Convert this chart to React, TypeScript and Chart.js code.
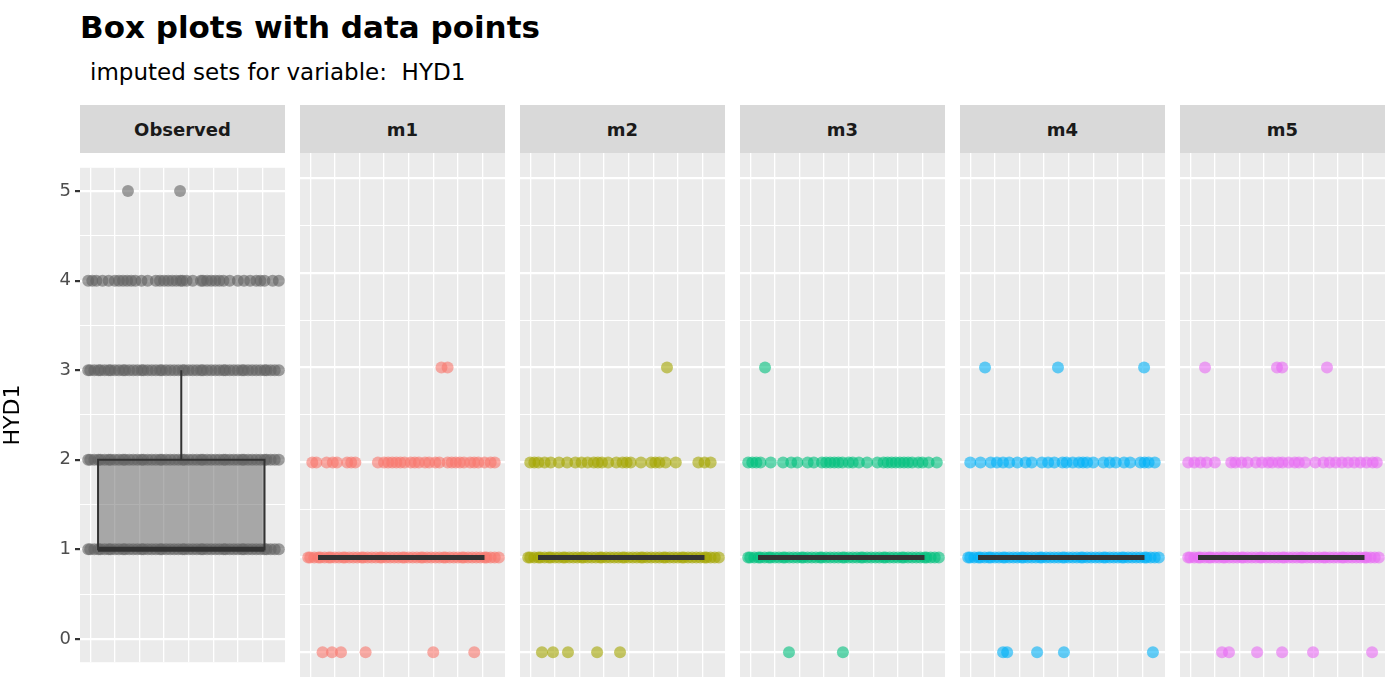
import { useEffect, useRef } from 'react';
import { Chart, registerables, Plugin } from 'chart.js';

Chart.register(...registerables);

const panels = ['Observed', 'm1', 'm2', 'm3', 'm4', 'm5'];
const colors = ['#636363', '#F8766D', '#A3A500', '#00BF7D', '#00B0F6', '#E76BF3'];
const yTicks = [0, 1, 2, 3, 4, 5];

// jittered x positions (0..1 inside each panel) per value level
const dense = [0.04, 0.05, 0.07, 0.09, 0.1, 0.12, 0.14, 0.15, 0.17, 0.19, 0.21, 0.22, 0.24, 0.26, 0.28, 0.3, 0.31, 0.33, 0.35, 0.37, 0.39, 0.4, 0.42, 0.44, 0.46, 0.48, 0.5, 0.51, 0.53, 0.55, 0.57, 0.59, 0.6, 0.62, 0.64, 0.66, 0.68, 0.7, 0.71, 0.73, 0.75, 0.77, 0.79, 0.8, 0.82, 0.84, 0.86, 0.88, 0.9, 0.91, 0.93, 0.95, 0.97];
const obs4 = [0.04, 0.06, 0.08, 0.11, 0.14, 0.17, 0.19, 0.21, 0.23, 0.25, 0.27, 0.3, 0.33, 0.37, 0.39, 0.41, 0.43, 0.45, 0.47, 0.49, 0.5, 0.52, 0.55, 0.59, 0.6, 0.62, 0.64, 0.66, 0.68, 0.7, 0.73, 0.77, 0.8, 0.83, 0.86, 0.88, 0.9, 0.94, 0.97];
const obs5 = [0.234, 0.488];
const m1y0 = [0.11, 0.156, 0.2, 0.32, 0.65, 0.85];
const m1y2 = [0.06, 0.08, 0.13, 0.16, 0.18, 0.23, 0.25, 0.27, 0.38, 0.41, 0.43, 0.45, 0.47, 0.49, 0.51, 0.54, 0.56, 0.58, 0.61, 0.63, 0.66, 0.68, 0.72, 0.74, 0.76, 0.78, 0.8, 0.83, 0.85, 0.87, 0.9, 0.93, 0.95];
const m1y3 = [0.69, 0.72];
const m2y0 = [0.107, 0.161, 0.234, 0.376, 0.488];
const m2y2 = [0.05, 0.07, 0.09, 0.12, 0.15, 0.19, 0.23, 0.27, 0.3, 0.33, 0.36, 0.38, 0.4, 0.43, 0.47, 0.5, 0.52, 0.54, 0.59, 0.64, 0.66, 0.68, 0.71, 0.76, 0.87, 0.9, 0.93];
const m2y3 = [0.717];
const m3y0 = [0.239, 0.502];
const m3y2 = [0.04, 0.06, 0.08, 0.1, 0.15, 0.21, 0.25, 0.28, 0.33, 0.36, 0.4, 0.42, 0.44, 0.46, 0.48, 0.5, 0.53, 0.55, 0.58, 0.62, 0.67, 0.7, 0.72, 0.74, 0.76, 0.78, 0.8, 0.82, 0.84, 0.87, 0.89, 0.92, 0.96];
const m3y3 = [0.122];
const m4y0 = [0.21, 0.23, 0.376, 0.507, 0.941];
const m4y2 = [0.05, 0.1, 0.15, 0.18, 0.21, 0.24, 0.28, 0.32, 0.35, 0.4, 0.43, 0.46, 0.5, 0.52, 0.55, 0.58, 0.6, 0.62, 0.65, 0.7, 0.73, 0.76, 0.8, 0.83, 0.88, 0.9, 0.92, 0.95];
const m4y3 = [0.122, 0.478, 0.898];
const m5y0 = [0.205, 0.239, 0.376, 0.498, 0.649, 0.937];
const m5y2 = [0.04, 0.07, 0.1, 0.13, 0.17, 0.25, 0.27, 0.3, 0.33, 0.37, 0.4, 0.43, 0.45, 0.48, 0.5, 0.53, 0.56, 0.58, 0.61, 0.66, 0.7, 0.73, 0.76, 0.79, 0.82, 0.85, 0.88, 0.91, 0.94, 0.96];
const m5y3 = [0.122, 0.473, 0.498, 0.717];

// [lowWhisker, q1, median, q3, highWhisker]
const boxStats = [
  [1, 1, 1, 2, 3],
  [1, 1, 1, 1, 1],
  [1, 1, 1, 1, 1],
  [1, 1, 1, 1, 1],
  [1, 1, 1, 1, 1],
  [1, 1, 1, 1, 1],
];
const boxLeft = 0.088;
const boxRight = 0.9;

const levels: [number, number[]][][] = [
  [[1, dense], [2, dense], [3, dense], [4, obs4], [5, obs5]],
  [[0, m1y0], [1, dense], [2, m1y2], [3, m1y3]],
  [[0, m2y0], [1, dense], [2, m2y2], [3, m2y3]],
  [[0, m3y0], [1, dense], [2, m3y2], [3, m3y3]],
  [[0, m4y0], [1, dense], [2, m4y2], [3, m4y3]],
  [[0, m5y0], [1, dense], [2, m5y2], [3, m5y3]],
];

const xGrid = [0.05, 0.17, 0.29, 0.41, 0.53, 0.65, 0.77, 0.89];
const font = 'DejaVu Sans';

function hexA(hex: string, a: number) {
  const n = parseInt(hex.slice(1), 16);
  return `rgba(${(n >> 16) & 255},${(n >> 8) & 255},${n & 255},${a})`;
}

function Panel({ index }: { index: number }) {
  const ref = useRef<HTMLCanvasElement>(null);
  const first = index === 0;
  useEffect(() => {
    if (!ref.current) return;
    const color = colors[index];
    const bg: Plugin = {
      id: 'bg',
      beforeDraw(c) {
        const { ctx, chartArea: a } = c;
        ctx.save();
        ctx.fillStyle = '#EBEBEB';
        ctx.fillRect(a.left, a.top, a.right - a.left, a.bottom - a.top);
        ctx.restore();
      },
    };
    const box: Plugin = {
      id: 'box',
      afterDatasetsDraw(c) {
        const { ctx } = c;
        const xs = c.scales.x;
        const ys = c.scales.y;
        const [lo, q1, med, q3, hi] = boxStats[index];
        const l = xs.getPixelForValue(boxLeft);
        const r = xs.getPixelForValue(boxRight);
        const cx = xs.getPixelForValue((boxLeft + boxRight) / 2);
        ctx.save();
        ctx.strokeStyle = '#333333';
        ctx.lineWidth = 2;
        ctx.beginPath();
        ctx.moveTo(cx, ys.getPixelForValue(q3));
        ctx.lineTo(cx, ys.getPixelForValue(hi));
        ctx.moveTo(cx, ys.getPixelForValue(q1));
        ctx.lineTo(cx, ys.getPixelForValue(lo));
        ctx.stroke();
        if (q3 > q1) {
          const t = ys.getPixelForValue(q3);
          const b = ys.getPixelForValue(q1);
          ctx.fillStyle = hexA(color, 0.5);
          ctx.fillRect(l, t, r - l, b - t);
          ctx.strokeRect(l, t, r - l, b - t);
        }
        ctx.lineWidth = 5;
        ctx.beginPath();
        ctx.moveTo(l, ys.getPixelForValue(med));
        ctx.lineTo(r, ys.getPixelForValue(med));
        ctx.stroke();
        ctx.restore();
      },
    };
    const datasets = levels[index].map(([y, xs]) => ({
      data: xs.map((x) => ({ x, y })),
      backgroundColor: hexA(color, 0.6),
      borderColor: hexA(color, 0.6),
      pointRadius: 6,
      borderWidth: 0,
    }));
    const chart = new Chart(ref.current, {
      type: 'scatter',
      data: { datasets },
      plugins: [bg, box],
      options: {
        animation: false,
        responsive: false,
        layout: { padding: 0, autoPadding: false },
        plugins: { legend: { display: false }, tooltip: { enabled: false } },
        scales: {
          x: {
            min: 0,
            max: 1,
            afterBuildTicks: (s) => {
              s.ticks = xGrid.map((v) => ({ value: v }));
            },
            afterFit: (s) => {
              s.height = 0;
            },
            ticks: { display: false },
            border: { display: false },
            grid: { color: '#FFFFFF', lineWidth: 1.3, drawTicks: false },
          },
          y: {
            min: -0.26,
            max: 5.26,
            afterBuildTicks: (s) => {
              s.ticks = [0, 0.5, 1, 1.5, 2, 2.5, 3, 3.5, 4, 4.5, 5].map((v) => ({ value: v }));
            },
            afterFit: (s) => {
              s.width = first ? 80 : 0;
            },
            title: {
              display: first,
              text: 'HYD1',
              color: '#000',
              font: { family: font, size: 22 },
              padding: { top: 0, bottom: 6 },
            },
            ticks: {
              display: first,
              color: '#4D4D4D',
              font: { family: font, size: 18 },
              padding: 4,
              callback: (v) => (yTicks.includes(Number(v)) ? String(v) : ''),
            },
            border: { display: false },
            grid: {
              color: '#FFFFFF',
              lineWidth: (c) => (Number.isInteger(c.tick?.value) ? 2.2 : 1.1),
              drawTicks: first,
              tickLength: 5,
              tickColor: (c) => (Number.isInteger(c.tick?.value) ? '#333333' : 'rgba(0,0,0,0)'),
            },
          },
        },
      },
    });
    return () => chart.destroy();
  }, [index]);
  const left = first ? 0 : 300 + (index - 1) * 220;
  const width = first ? 285 : 205;
  return (
    <>
      <div
        style={{
          position: 'absolute',
          left: first ? 80 : left,
          top: 105,
          width: 205,
          height: 48,
          background: '#D9D9D9',
          color: '#1A1A1A',
          fontFamily: font,
          fontWeight: 'bold',
          fontSize: 18,
          display: 'flex',
          alignItems: 'center',
          justifyContent: 'center',
        }}
      >
        {panels[index]}
      </div>
      <canvas ref={ref} width={width} height={524} style={{ position: 'absolute', left, top: 153 }} />
    </>
  );
}

export default function App() {
  return (
    <div style={{ position: 'absolute', left: 0, top: 0, width: 1400, height: 700, background: '#fff' }}>
      <div style={{ position: 'absolute', left: 80, top: 9, fontFamily: font, fontWeight: 'bold', fontSize: 31, color: '#000' }}>
        Box plots with data points
      </div>
      <div style={{ position: 'absolute', left: 90, top: 59, fontFamily: font, fontSize: 23, color: '#000', whiteSpace: 'pre' }}>
        imputed sets for variable:  HYD1
      </div>
      {panels.map((p, i) => (
        <Panel key={p} index={i} />
      ))}
    </div>
  );
}
